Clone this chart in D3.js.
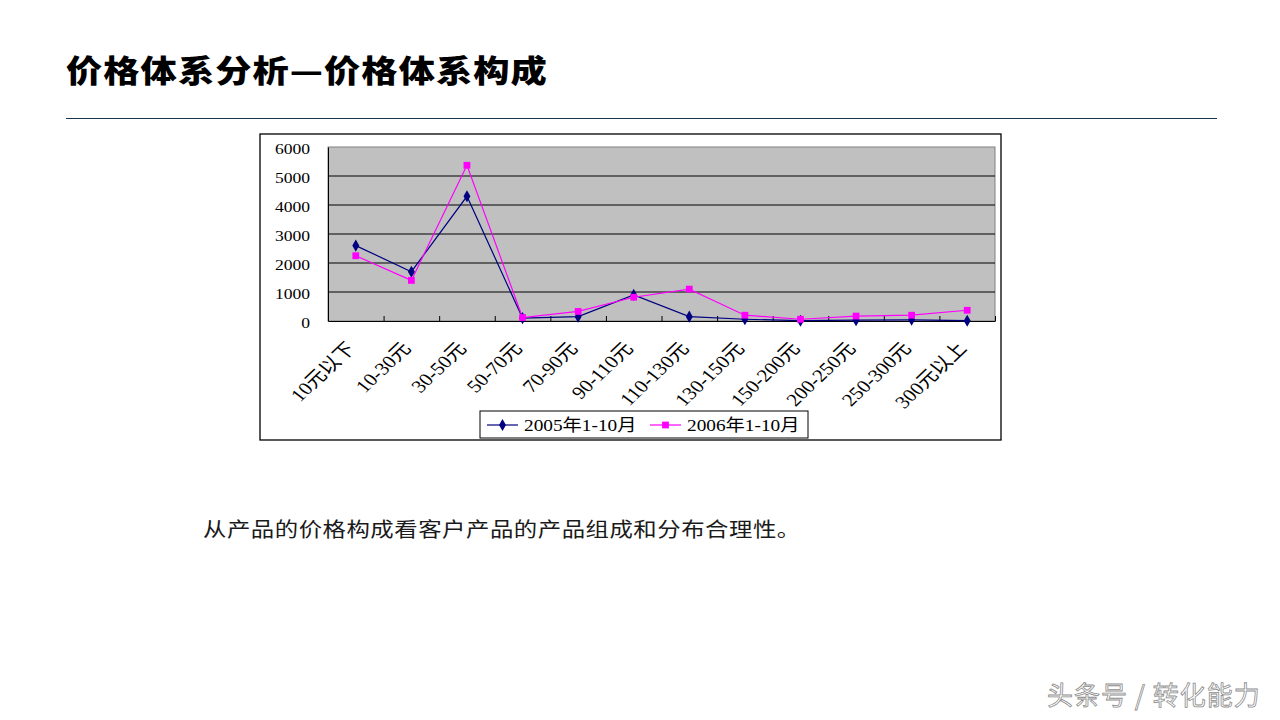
<!DOCTYPE html>
<html>
<head>
<meta charset="utf-8">
<script src="https://cdn.jsdelivr.net/npm/d3@7"></script>
<style>
  html, body { margin: 0; padding: 0; background: #fff; }
  svg { display: block; }
</style>
</head>
<body>
<svg id="slide" width="1280" height="720"></svg>
<script>
// price bands and sales counts
const categories = ["10元以下", "10-30元", "30-50元", "50-70元", "70-90元", "90-110元",
  "110-130元", "130-150元", "150-200元", "200-250元", "250-300元", "300元以上"];
const series2005 = [2600, 1700, 4300, 100, 150, 900, 150, 60, 10, 30, 40, 10];
const series2006 = [2250, 1400, 5370, 120, 330, 820, 1100, 200, 60, 170, 200, 370];
const seriesNames = ["2005年1-10月", "2006年1-10月"];
const yTicks = [0, 1000, 2000, 3000, 4000, 5000, 6000];

const serif = "'Liberation Serif', 'Noto Sans CJK SC', serif";
const cjk = "'Noto Sans CJK SC', 'Noto Sans', sans-serif";
const SX = 1.17; // the slide art is stretched sideways

const svg = d3.select("#slide");

// slide title + rule
svg.append("text")
  .attr("transform", `translate(66,82) scale(${SX},1)`)
  .attr("font-family", cjk)
  .attr("font-weight", 900)
  .attr("font-size", 31)
  .attr("letter-spacing", 0.9)
  .attr("fill", "#000")
  .text("价格体系分析—价格体系构成");

svg.append("line")
  .attr("x1", 66).attr("x2", 1217)
  .attr("y1", 118.5).attr("y2", 118.5)
  .attr("stroke", "#17354a")
  .attr("stroke-width", 1);

// chart frame
const frame = {left: 260, top: 134, right: 1001, bottom: 440};
svg.append("rect")
  .attr("x", frame.left).attr("y", frame.top)
  .attr("width", frame.right - frame.left)
  .attr("height", frame.bottom - frame.top)
  .attr("fill", "#fff")
  .attr("stroke", "#000")
  .attr("stroke-width", 1.3);

const plot = {left: 328, top: 147, right: 995, bottom: 321};

const x = d3.scaleBand()
  .domain(categories)
  .range([plot.left, plot.right]);

const xEdge = d3.scaleLinear()
  .domain([0, categories.length])
  .range([plot.left, plot.right]);

const y = d3.scaleLinear()
  .domain([0, 6000])
  .range([plot.bottom, plot.top]);

// plot area
svg.append("rect")
  .attr("x", plot.left).attr("y", plot.top)
  .attr("width", plot.right - plot.left)
  .attr("height", plot.bottom - plot.top)
  .attr("fill", "#c0c0c0")
  .attr("stroke", "#808080")
  .attr("stroke-width", 1);

// gridlines
svg.append("g")
  .selectAll("line")
  .data(yTicks.filter(d => d > 0 && d < 6000))
  .join("line")
  .attr("x1", plot.left).attr("x2", plot.right)
  .attr("y1", d => y(d)).attr("y2", d => y(d))
  .attr("stroke", "#000")
  .attr("stroke-width", 1);

// y axis
const yAxis = svg.append("g")
  .attr("transform", `translate(${plot.left},0)`)
  .call(d3.axisLeft(y).tickValues(yTicks).tickFormat(d3.format("d")).tickSize(0));
yAxis.select(".domain").attr("stroke", "#000");
yAxis.selectAll("text")
  .attr("x", -18 / SX)
  .attr("dy", "0.45em")
  .attr("transform", `scale(${SX},1)`)
  .attr("font-family", serif)
  .attr("font-size", 15)
  .attr("fill", "#000");

// x axis: boundary ticks, inside the plot
const xAxis = svg.append("g")
  .attr("transform", `translate(0,${plot.bottom})`)
  .call(d3.axisBottom(xEdge).tickValues(d3.range(categories.length + 1))
    .tickSize(-5).tickSizeOuter(0).tickFormat(""));
xAxis.select(".domain").attr("stroke", "#000").attr("stroke-width", 1.2);
xAxis.selectAll(".tick line").attr("stroke", "#000");

// rotated category labels
svg.append("g")
  .selectAll("text")
  .data(categories)
  .join("text")
  .attr("transform", d => `translate(${x(d) + x.bandwidth() / 2 - 5},${plot.bottom + 24}) scale(${SX},1) rotate(-48)`)
  .attr("text-anchor", "end")
  .attr("dy", "0.35em")
  .attr("font-family", serif)
  .attr("font-size", 18)
  .attr("fill", "#000")
  .text(d => d);

// series lines + markers
const line = d3.line()
  .x((d, i) => x(categories[i]) + x.bandwidth() / 2)
  .y(d => y(d));

const series = [
  {name: seriesNames[0], values: series2005, color: "#000080", symbol: d3.symbolDiamond, size: 42},
  {name: seriesNames[1], values: series2006, color: "#ff00ff", symbol: d3.symbolSquare, size: 46}
];

series.forEach(s => {
  svg.append("path")
    .datum(s.values)
    .attr("fill", "none")
    .attr("stroke", s.color)
    .attr("stroke-width", 1.2)
    .attr("d", line);
});

series.forEach(s => {
  svg.append("g")
    .selectAll("path")
    .data(s.values)
    .join("path")
    .attr("transform", (d, i) => `translate(${x(categories[i]) + x.bandwidth() / 2},${y(d)})`)
    .attr("d", d3.symbol().type(s.symbol).size(s.size))
    .attr("fill", s.color);
});

// legend
const legend = svg.append("g");
legend.append("rect")
  .attr("x", 480).attr("y", 411)
  .attr("width", 328).attr("height", 27)
  .attr("fill", "#fff")
  .attr("stroke", "#000")
  .attr("stroke-width", 1);

const legendX = [487, 650];
series.forEach((s, i) => {
  const lx = legendX[i];
  legend.append("line")
    .attr("x1", lx).attr("x2", lx + 31)
    .attr("y1", 425).attr("y2", 425)
    .attr("stroke", s.color)
    .attr("stroke-width", 1.2);
  legend.append("path")
    .attr("transform", `translate(${lx + 15.5},425)`)
    .attr("d", d3.symbol().type(s.symbol).size(s.size))
    .attr("fill", s.color);
  legend.append("text")
    .attr("transform", `translate(${lx + 37},425) scale(${SX},1)`)
    .attr("dy", "0.35em")
    .attr("font-family", serif)
    .attr("font-size", 16.5)
    .attr("fill", "#000")
    .text(s.name);
});

// body text
svg.append("text")
  .attr("transform", `translate(203,537) scale(${SX},1)`)
  .attr("font-family", cjk)
  .attr("font-size", 20)
  .attr("letter-spacing", 0.45)
  .attr("fill", "#1a1a1a")
  .text("从产品的价格构成看客户产品的产品组成和分布合理性。");

// watermark
svg.append("text")
  .attr("x", 1047).attr("y", 705)
  .attr("font-family", cjk)
  .attr("font-size", 26)
  .attr("letter-spacing", 1)
  .attr("fill", "#fff")
  .attr("stroke", "#8c8c8c")
  .attr("stroke-width", 0.8)
  .text("头条号 / 转化能力");
</script>
</body>
</html>
